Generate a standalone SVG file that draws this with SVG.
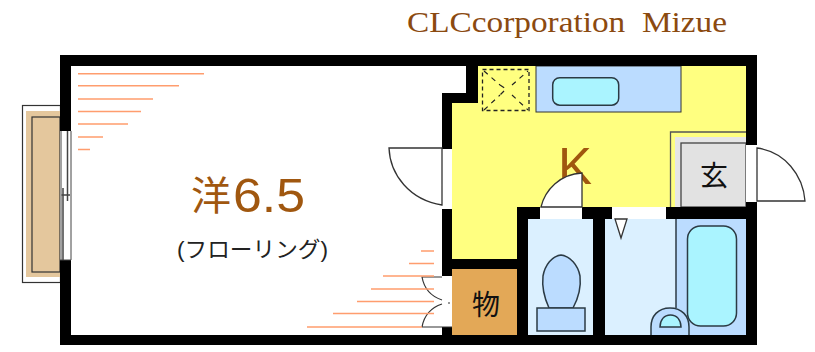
<svg xmlns="http://www.w3.org/2000/svg" width="815" height="352" viewBox="0 0 815 352">
<style>
.wall{fill:#000}
.gap{fill:#fff}
.o{stroke:#ff9d6e;stroke-width:1.5;fill:none}
.l{stroke:#333;stroke-width:1.2;fill:none}
.d{stroke:#333;stroke-width:1.3;fill:#fff}
.f{stroke:#2b3a44;stroke-width:1.5}
.t{font-family:"Liberation Sans","Noto Sans CJK JP",sans-serif}
</style>
<rect width="815" height="352" fill="#fff"/>
<g id="balcony">
<rect x="22.500" y="105.500" width="38" height="177" fill="#fff" stroke="#333" stroke-width="1.200"/>
<rect x="26" y="111" width="34" height="166" fill="#e4c79d"/>
<rect x="32" y="117" width="28" height="155" fill="none" stroke="#333" stroke-width="1.200"/>
</g>
<g id="floors">
<polygon points="478,66 746,66 746,207 517,207 517,259 452,259 452,103 478,103" fill="#ffff80"/>
<rect x="536" y="66" width="145" height="46" fill="#bbdcff" stroke="#333" stroke-width="1"/>
<path d="M670.500 207V132H746" fill="none" stroke="#555" stroke-width="1.300"/>
<rect x="675" y="137" width="71" height="70" fill="#e6e6e6"/>
<rect x="681" y="143" width="65" height="64" fill="#e2e2e2" stroke="#444" stroke-width="1.300"/>
<rect x="452" y="269" width="65" height="66" fill="#e3a857"/>
<rect x="528" y="219" width="65" height="116" fill="#dbf0ff"/>
<rect x="605" y="219" width="71" height="116" fill="#dbf0ff"/>
<rect x="676" y="219" width="70" height="116" fill="#bbdcff"/>
<text class="t" x="558" y="184" font-size="51" fill="#a0570f">K</text>
</g>
<g id="walls">
<path class="wall" fill-rule="evenodd" d="M60 55H757V345H60ZM71 66V335H442V327H452V335H517V269H452V259H517V207H452V209H442V93H466V66ZM478 66V103H452V207H517V207H746V66ZM528 219V335H593V219ZM605 219V335H746V219Z"/>
<rect class="wall" x="442" y="93" width="10" height="10"/>
<rect class="wall" x="442" y="209" width="10" height="67"/>
</g>
<g id="openings">
<rect class="gap" x="60" y="131" width="11" height="129"/>
<path d="M61 131V260M71 131V260M60 260H71" fill="none" stroke="#444" stroke-width="1"/>
<path d="M67.500 131V201M63 188V260M61.500 195H70" fill="none" stroke="#444" stroke-width="1.500"/>
<rect class="gap" x="442" y="149" width="10" height="60"/>
<rect class="gap" x="442" y="276" width="10" height="51"/>
<rect class="gap" x="746" y="145" width="11" height="57"/>
<rect class="gap" x="540" y="207" width="42" height="12"/>
<rect class="gap" x="612" y="207" width="54" height="12"/>
</g>
<g id="doors">
<path class="d" d="M442 148H389C390 175 410 200 442 205Z"/>
<path class="d" d="M757 148C785 152 803 175 805 201H757Z"/>
<path class="d" d="M582 173V207H541C545 190 560 174 582 173Z"/>
<path class="d" d="M615 219H627L621 238Z"/>
<path class="l" d="M442 277H422C424 288 430 296 442 300M422 327C424 316 430 308 442 304M422 327H452M448 303H450"/>
</g>
<g id="floor-lines">
<path class="o" d="M78 73.700H204M78 85.700H179M78 99H153M78 111.500H141M78 124H128M78 137H103M78 149.500H90"/>
<path class="o" d="M421 251H434M409 263.500H434M383 276H434M371 289H434M357 301.500H434M333 313.500H434M307 327H422"/>
</g>
<g id="kitchen">
<rect x="552.700" y="77.700" width="66" height="27.500" rx="7" fill="#aaf4ff" stroke="#2b3a44" stroke-width="1.500"/>
<rect x="482.500" y="69.500" width="46.500" height="41" fill="none" stroke="#222" stroke-width="1.300" stroke-dasharray="4 3"/>
<path d="M484 71L500 85M512 85L528 71M484 110L500 95M512 95L528 110M500 85L506 89L500 95" fill="none" stroke="#222" stroke-width="1.200" stroke-dasharray="5 5"/>
</g>
<g id="toilet">
<path class="f" fill="#bbdcff" d="M549 308C543 295 542 285 543 276C545 265 552 256 561 255C570 256 578 265 580 276C581 285 580 295 573 308Z"/>
<rect class="f" x="537" y="308" width="48" height="23" fill="#bbdcff"/>
</g>
<g id="bath">
<path d="M676 219V308" stroke="#2b3a44" stroke-width="1.500"/>
<rect class="f" x="687.500" y="226" width="49" height="100" rx="13" fill="#aaf4ff"/>
<path class="f" fill="#bbdcff" d="M651 335V327C651 316 658 308 670 308C682 308 689 316 689 327V335"/>
<path class="f" fill="#aaf4ff" d="M660 327C660 320 664 315 670.500 315C677 315 681 320 681 327Z"/>
</g>
<g id="labels" class="t">
<text x="407" y="32" font-family="Liberation Serif,serif" font-size="29" fill="#8b4a10" textLength="320" lengthAdjust="spacingAndGlyphs" style="white-space:pre">CLCcorporation  Mizue</text>
<text x="191" y="210" font-size="40" fill="#a0570f">洋</text>
<text x="233" y="212" font-size="49" fill="#a0570f" textLength="72" lengthAdjust="spacingAndGlyphs">6.5</text>
<text x="177" y="257" font-size="22" fill="#222" textLength="151" lengthAdjust="spacingAndGlyphs">(フローリング)</text>
<text x="700" y="186" font-size="28" fill="#111">玄</text>
<text x="472" y="315" font-size="28" fill="#111">物</text>
</g>
</svg>
